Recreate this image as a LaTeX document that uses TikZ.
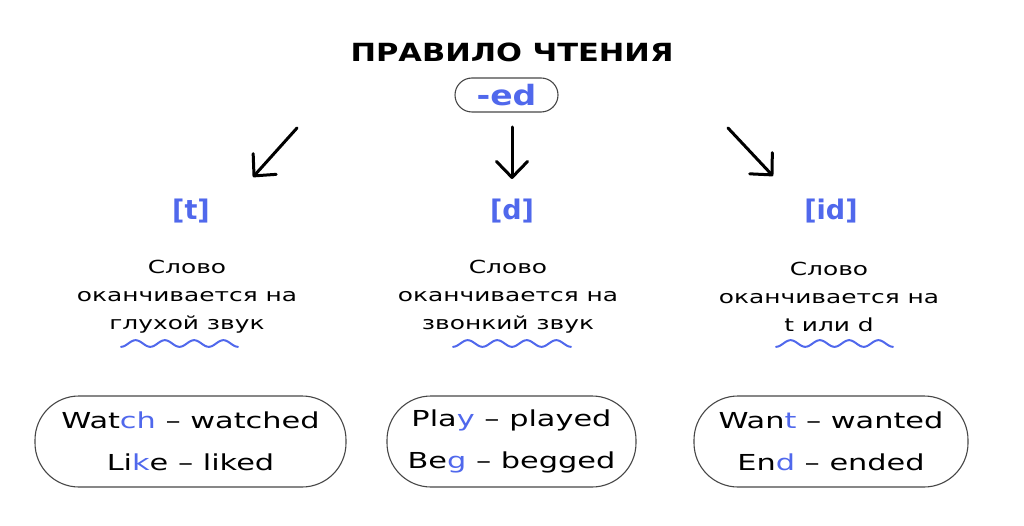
\documentclass[tikz,border=0pt]{standalone}
\usepackage{fontspec}
\setmainfont{DejaVu Sans}
\newfontfamily\widefont{DejaVu Sans}[FakeStretch=1.38]
\newfontfamily\titlefont{DejaVu Sans}[FakeStretch=1.22]
\newfontfamily\edfont{DejaVu Sans}[FakeStretch=1.18]
\usetikzlibrary{arrows.meta}
\definecolor{accent}{RGB}{80,104,236}
\definecolor{pillgray}{RGB}{70,70,70}
\tikzset{
  x=1pt,y=-1pt,
  arr/.style={line width=3pt,line cap=round,line join=round,-{Straight Barb[length=16pt,width=31pt,line width=3pt,round]}},
  sound/.style={text=accent,font=\fontsize{27}{30}\selectfont\bfseries,inner sep=0pt},
  desc/.style={align=center,font=\widefont\fontsize{18}{28}\selectfont,inner sep=0pt},
  pill/.style={draw=pillgray,line width=1.1pt,rounded corners=44pt,minimum height=91pt,align=center,font=\widefont\fontsize{22}{42}\selectfont,inner sep=0pt},
  wave/.style={draw=accent,line width=2pt,line cap=round},
}
\newcommand{\hl}[1]{\textcolor{accent}{#1}}
\begin{document}
\begin{tikzpicture}
\useasboundingbox (0,0) rectangle (1024,526);
\node[font=\titlefont\fontsize{25}{30}\selectfont\bfseries,inner sep=0pt] (title) at (512,52) {ПРАВИЛО ЧТЕНИЯ};
\node[draw=pillgray,line width=1.1pt,rounded corners=17pt,minimum width=103pt,minimum height=34pt,inner sep=0pt,text=accent,font=\edfont\fontsize{28}{30}\selectfont\bfseries] (ed) at (506.5,95) {-ed};
% arrow endpoints
\coordinate (a1s) at (297,128); \coordinate (a1e) at (253,177);
\coordinate (a2s) at (512,127); \coordinate (a2e) at (512,179);
\coordinate (a3s) at (728,128); \coordinate (a3e) at (773,176);
\draw[arr] (a1s) -- (a1e);
\draw[arr] (a2s) -- (a2e);
\draw[arr] (a3s) -- (a3e);
% sounds
\node[sound] (t) at (191,211) {[t]};
\node[sound] (d) at (512,211) {[d]};
\node[sound] (id) at (831,211) {[id]};
% descriptions
\node[desc] (dt) at (187,297) {Слово\\оканчивается на\\глухой звук};
\node[desc] (dd) at (508,297) {Слово\\оканчивается на\\звонкий звук};
\node[desc] (did) at (829,297) {Слово\\оканчивается на\\t или d};
% waves
\draw[wave] plot[domain=0:117,samples=120] ({121+\x},{343.5+3.3*cos(\x*12.3077)});
\draw[wave] plot[domain=0:118,samples=120] ({453+\x},{343.5+3.3*cos(\x*12.2034)});
\draw[wave] plot[domain=0:117,samples=120] ({776+\x},{343.5+3.3*cos(\x*12.3077)});
% pills
\node[pill,minimum width=311pt] (pt) at (190.5,441.5) {Wat\hl{ch} – watched\\Li\hl{k}e – liked};
\node[pill,minimum width=249pt] (pd) at (511.5,441.5) {Pla\hl{y} – played\\Be\hl{g} – begged};
\node[pill,minimum width=274pt] (pid) at (831,441.5) {Wan\hl{t} – wanted\\En\hl{d} – ended};
\end{tikzpicture}
\end{document}
